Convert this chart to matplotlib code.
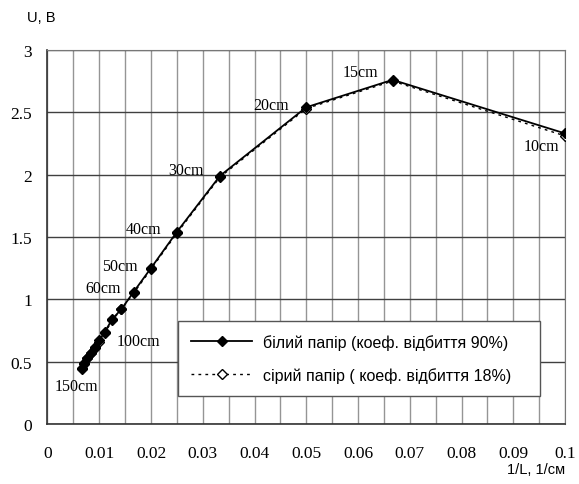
import matplotlib
matplotlib.use("Agg")
import matplotlib.pyplot as plt

# distances (cm) and measured voltages
dist_cm = [150, 140, 130, 120, 110, 100, 90, 80, 70, 60, 50, 40, 30, 20, 15, 10]
u_white = [0.45, 0.49, 0.53, 0.57, 0.62, 0.67, 0.74, 0.84, 0.92, 1.06, 1.25, 1.54, 1.99, 2.54, 2.76, 2.33]
u_grey = [0.44, 0.48, 0.53, 0.57, 0.61, 0.66, 0.73, 0.83, 0.92, 1.05, 1.24, 1.53, 1.98, 2.53, 2.75, 2.31]
inv_l = [1.0 / d for d in dist_cm]

# where the distance labels sit (data coords)
label_dist = [150, 100, 60, 50, 40, 30, 20, 15, 10]
label_x = [0.0056, 0.0175, 0.0107, 0.0140, 0.0185, 0.0268, 0.0431, 0.0605, 0.0954]
label_y = [0.30, 0.668, 1.086, 1.263, 1.56, 2.035, 2.56, 2.82, 2.23]

serif = "Liberation Serif"
sans = "Liberation Sans"

fig = plt.figure(figsize=(5.79, 4.85), dpi=100)
ax = fig.add_axes([0.082, 0.124, 0.894, 0.771])

ax.plot(inv_l, u_grey, color="black", linestyle=(0, (2, 3)), linewidth=1.0,
        marker="D", markersize=5.5, markerfacecolor="white", markeredgecolor="black",
        label="сірий папір ( коеф. відбиття 18%)", zorder=3)
ax.plot(inv_l, u_white, color="black", linestyle="-", linewidth=1.3,
        marker="D", markersize=5.5, markerfacecolor="black", markeredgecolor="black",
        label="білий папір (коеф. відбиття 90%)", zorder=4)

for d, x, y in zip(label_dist, label_x, label_y):
    ax.text(x, y, f"{d}cm", fontsize=11.5, family=serif, ha="center", va="center", zorder=5)

ax.set_xlim(0, 0.1)
ax.set_ylim(0, 3)
ax.set_xticks([i * 0.005 for i in range(21)], minor=True)
ax.set_xticks([i * 0.01 for i in range(11)])
ax.set_xticklabels(["0"] + [f"{i / 100:g}" for i in range(1, 10)] + ["0.1"])
ax.set_yticks([i * 0.5 for i in range(7)])
ax.set_yticklabels(["0", "0.5", "1", "1.5", "2", "2.5", "3"])
for lab in ax.get_xticklabels() + ax.get_yticklabels():
    lab.set_family(serif)
    lab.set_fontsize(12.5)
ax.tick_params(axis="both", which="both", length=0)
ax.tick_params(axis="x", pad=15)
ax.tick_params(axis="y", pad=11)

ax.grid(True, axis="x", which="both", color="#959595", linewidth=1.0)
ax.grid(True, axis="y", which="major", color="#404040", linewidth=1.0)
ax.set_axisbelow(True)
for side in ["top", "right"]:
    ax.spines[side].set_color("#777777")
for side in ["left", "bottom"]:
    ax.spines[side].set_color("#333333")
    ax.spines[side].set_linewidth(1.2)

handles, labels = ax.get_legend_handles_labels()
leg = ax.legend(handles[::-1], labels[::-1], loc="lower left", mode="expand",
                bbox_to_anchor=(0.253, 0.075, 0.699, 0.2),
                prop={"family": sans, "size": 11.5}, frameon=True, fancybox=False,
                edgecolor="#555555", framealpha=1, handlelength=3.8, handletextpad=0.7,
                borderpad=0.8, labelspacing=1.1, borderaxespad=0)
leg.get_frame().set_linewidth(1.0)

fig.text(0.047, 0.962, "U, B", family=sans, fontsize=10.5, ha="left", va="center")
fig.text(0.976, 0.031, "1/L, 1/см", family=sans, fontsize=10.5, ha="right", va="center")

fig.savefig("out.png", dpi=100)
